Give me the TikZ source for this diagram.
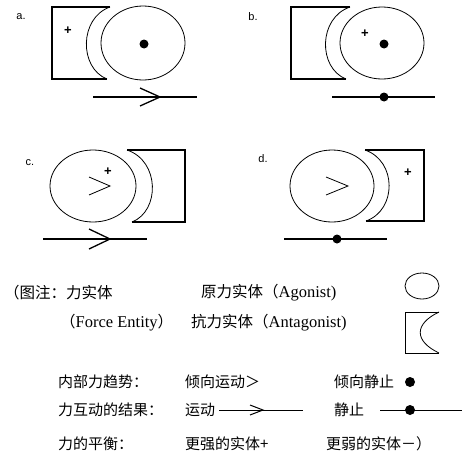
\documentclass[tikz,border=0pt]{standalone}
\usepackage{fontspec}
\setmainfont{Liberation Serif}
\newfontfamily\cjk{Noto Sans CJK SC}
\newfontfamily\lab{Liberation Sans}
\begin{document}
\begin{tikzpicture}[x=1pt,y=-1pt,
  boxline/.style={line width=1.6pt},
  thin line/.style={line width=0.8pt},
  arrline/.style={line width=1.3pt},
  plab/.style={font=\lab\fontsize{11}{12}\selectfont, inner sep=0pt},
  plus/.style={font=\lab\bfseries\fontsize{13}{13}\selectfont, inner sep=0pt},
  leg/.style={anchor=west, inner sep=0pt, font=\cjk\fontsize{15}{16}\selectfont},
  legtop/.style={anchor=west, inner sep=0pt, font=\cjk\fontsize{15.5}{16}\selectfont}]
\useasboundingbox (0,0) rectangle (462,455);
% ---------- panel a ----------
\node[plab] (la) at (21,17) {a.};
\draw[boxline] (110,7) -- (52,7) -- (52,79) -- (107,79);
\draw[thin line] (110,7) .. controls (79,18) and (79,68) .. (107,79);
\draw[thin line] (143,43) ellipse [x radius=42, y radius=37];
\fill (144,44) circle [radius=4.5];
\node[plus] (pa) at (68,31) {+};
\coordinate (a1) at (93,97); \coordinate (a2) at (197,97);
\draw[arrline] (a1) -- (a2);
\draw[arrline] (140,88) -- (160,97) -- (140,106);
% ---------- panel b ----------
\node[plab] (lb) at (253,17) {b.};
\draw[boxline] (350,7) -- (291,7) -- (291,79) -- (346,79);
\draw[thin line] (350,7) .. controls (318,18) and (318,68) .. (346,79);
\draw[thin line] (382,43) ellipse [x radius=42, y radius=36];
\fill (384,44) circle [radius=4.5];
\node[plus] (pb) at (365,34) {+};
\coordinate (b1) at (332,97); \coordinate (b2) at (435,97);
\draw[arrline] (b1) -- (b2);
\fill (384,97) circle [radius=4.5];
% ---------- panel c ----------
\node[plab] (lc) at (30,163) {c.};
\draw[thin line] (93,186) ellipse [x radius=43, y radius=36];
\draw[thin line] (89,177) -- (110,186) -- (89,195);
\node[plus] (pc) at (108,172) {+};
\draw[boxline] (127,150) -- (185,150) -- (185,222) -- (132,222);
\draw[thin line] (127,150) .. controls (160,161) and (160,211) .. (132,222);
\coordinate (c1) at (43,239); \coordinate (c2) at (147,239);
\draw[arrline] (c1) -- (c2);
\draw[arrline] (89,229) -- (110,239) -- (89,249);
% ---------- panel d ----------
\node[plab] (ld) at (263,159) {d.};
\draw[thin line] (332,186) ellipse [x radius=42, y radius=36];
\draw[thin line] (326,177) -- (348,186) -- (326,195);
\draw[boxline] (365,150) -- (424,150) -- (424,221) -- (366,221);
\draw[thin line] (365,150) .. controls (397,161) and (397,210) .. (366,221);
\node[plus] (pd) at (408,173) {+};
\coordinate (d1) at (284,239); \coordinate (d2) at (387,239);
\draw[arrline] (d1) -- (d2);
\fill (337,239) circle [radius=4.5];
% ---------- legend ----------
\node[legtop] (t1) at (4,293) {（图注：力实体};
\node[legtop] (t2) at (201,293) {原力实体（{\rmfamily\fontsize{16.5}{17}\selectfont Agonist)}};
\draw[thin line] (422,286) ellipse [x radius=17, y radius=13];
\node[legtop] (t3) at (60,323) {（{\rmfamily\fontsize{16.5}{17}\selectfont Force Entity}）};
\node[legtop] (t4) at (191,323) {抗力实体（{\rmfamily\fontsize{16.5}{17}\selectfont Antagonist)}};
\draw[thin line] (439,312) -- (405,312) -- (405,353) -- (439,353);
\draw[thin line] (439,312) .. controls (414,324) and (414,341) .. (439,353);
%
\node[leg] (r1) at (58,382) {内部力趋势：};
\node[leg] (r2) at (185,382) {倾向运动＞};
\node[leg] (r3) at (334,382) {倾向静止};
\fill (410,382) circle [radius=5];
\node[leg] (r4) at (58,410) {力互动的结果：};
\node[leg] (r5) at (185,410) {运动};
\coordinate (m1) at (219,410); \coordinate (m2) at (303,410);
\draw[line width=1pt] (m1) -- (m2);
\draw[line width=1pt] (250,405) -- (263,410) -- (250,415);
\node[leg] (r6) at (334,410) {静止};
\coordinate (s1) at (380,410); \coordinate (s2) at (462,410);
\draw[line width=1pt] (s1) -- (s2);
\fill (410,410) circle [radius=5];
\node[leg] (r7) at (58,444) {力的平衡：};
\node[leg] (r8) at (185,444) {更强的实体+};
\node[leg] (r9) at (326,444) {更弱的实体－）};
\end{tikzpicture}
\end{document}
